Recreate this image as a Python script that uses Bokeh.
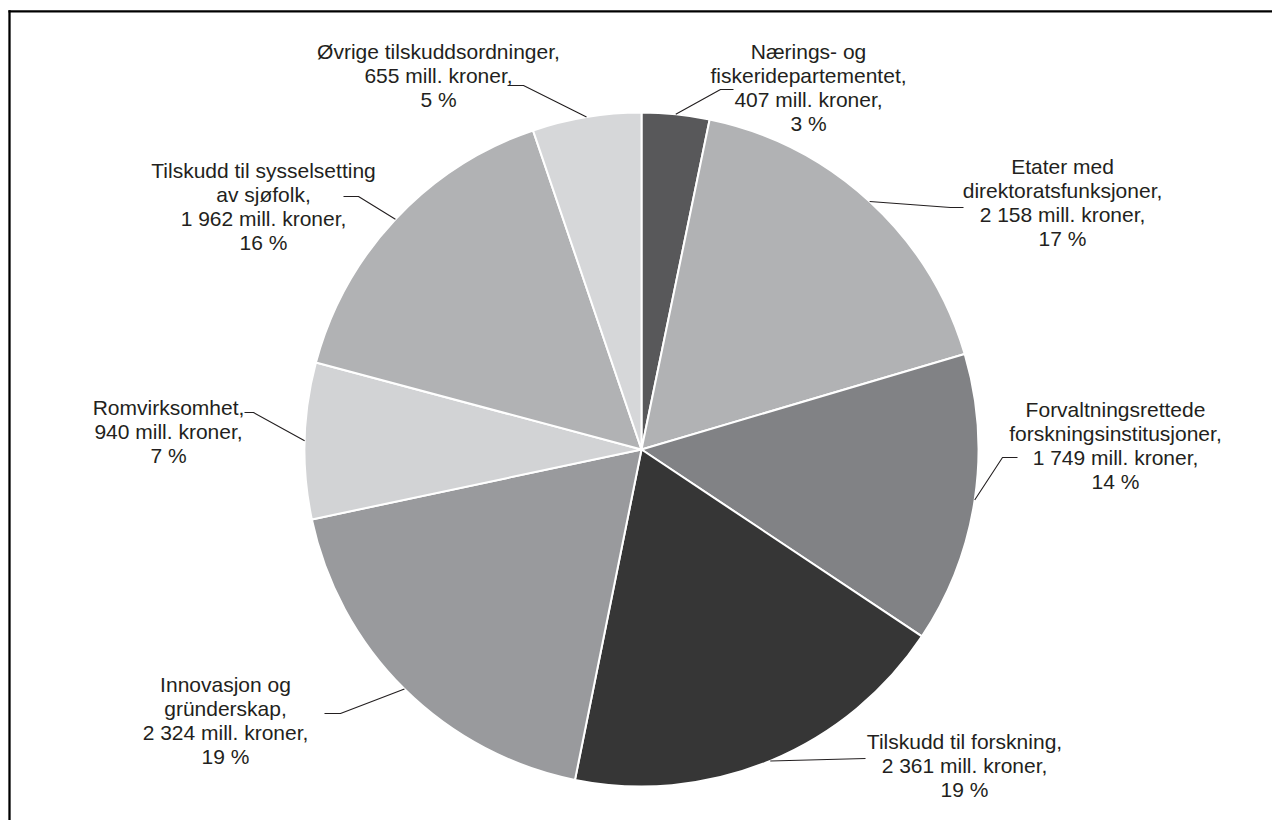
import math
from bokeh.plotting import figure
from bokeh.models import ColumnDataSource, Range1d
from bokeh.core.properties import value
from bokeh.embed import file_html
from bokeh.resources import INLINE

# ---- data ----
names = [
    "Nærings- og\nfiskeridepartementet",
    "Etater med\ndirektoratsfunksjoner",
    "Forvaltningsrettede\nforskningsinstitusjoner",
    "Tilskudd til forskning",
    "Innovasjon og\ngründerskap",
    "Romvirksomhet",
    "Tilskudd til sysselsetting\nav sjøfolk",
    "Øvrige tilskuddsordninger",
]
values = [407, 2158, 1749, 2361, 2324, 940, 1962, 655]
percents = [3, 17, 14, 19, 19, 7, 16, 5]
colors = ["#58585a", "#b1b2b4", "#818285", "#363636",
          "#999a9d", "#d2d3d5", "#b1b2b4", "#d6d7d9"]

# ---- layout (screen pixels; y_data = -y_screen) ----
W, H = 1272, 820
CX, CY, R = 641, 449, 337
FONT = "21px"
LH = 24
TXT = "#231f20"
# label block: center x, first line center y
label_pos = [(808, 51), (1062, 166), (1115, 409), (964, 741),
             (225, 684), (168, 407), (263, 170), (438, 51)]
# leader: bend point, end point
leader_pts = [((720, 89), (733, 89)), ((950, 207), (963, 207)),
              ((1002, 457), (1017, 457)), ((865, 758), (865, 758)),
              ((340, 713), (324, 713)), ((253, 412), (244, 412)),
              ((358, 196), (343, 196)), ((523, 85), (507, 85))]

total = float(sum(values))
starts, ends, mids = [], [], []
cum = 0.0
for v in values:
    a0 = math.pi / 2 - 2 * math.pi * cum / total
    cum += v
    a1 = math.pi / 2 - 2 * math.pi * cum / total
    starts.append(a0)
    ends.append(a1)
    mids.append((a0 + a1) / 2)

p = figure(width=W, height=H, output_backend="svg", toolbar_location=None,
           x_range=Range1d(0, W), y_range=Range1d(-H, 0),
           min_border=0, min_border_left=0, min_border_right=0,
           min_border_top=0, min_border_bottom=0)
p.axis.visible = False
p.grid.visible = False
p.outline_line_color = None
p.background_fill_color = "white"
p.border_fill_color = "white"

src = ColumnDataSource(dict(start=starts, end=ends, color=colors))
p.wedge(x=CX, y=-CY, radius=R, start_angle="start", end_angle="end",
        direction="clock", fill_color="color", line_color="white",
        line_width=2, source=src)

# leaders
xs, ys = [], []
for m, (b, e) in zip(mids, leader_pts):
    ex = CX + R * math.cos(m)
    ey = -CY + R * math.sin(m)
    xs.append([ex, b[0], e[0]])
    ys.append([ey, -b[1], -e[1]])
p.multi_line(xs=xs, ys=ys, line_color="#231f20", line_width=1.1)

# labels
tx, ty, tt = [], [], []
for n, v, pc, (lx, ly) in zip(names, values, percents, label_pos):
    vs = f"{v:,}".replace(",", " ")
    lines = (n + ",").split("\n") + [f"{vs} mill. kroner,", f"{pc} %"]
    for i, ln in enumerate(lines):
        tx.append(lx)
        ty.append(-(ly + i * LH))
        tt.append(ln)
p.text(x=tx, y=ty, text=tt, text_font=value("Liberation Sans"),
       text_font_size=FONT, text_color=TXT, text_align="center",
       text_baseline="middle")

# frame (only top and left edges fall inside the picture)
p.multi_line(xs=[[8, W], [9, 9]], ys=[[-10.8, -10.8], [-9.7, -H]],
             line_color="black", line_width=2.3)

open("out.html", "w").write(file_html(p, INLINE))
